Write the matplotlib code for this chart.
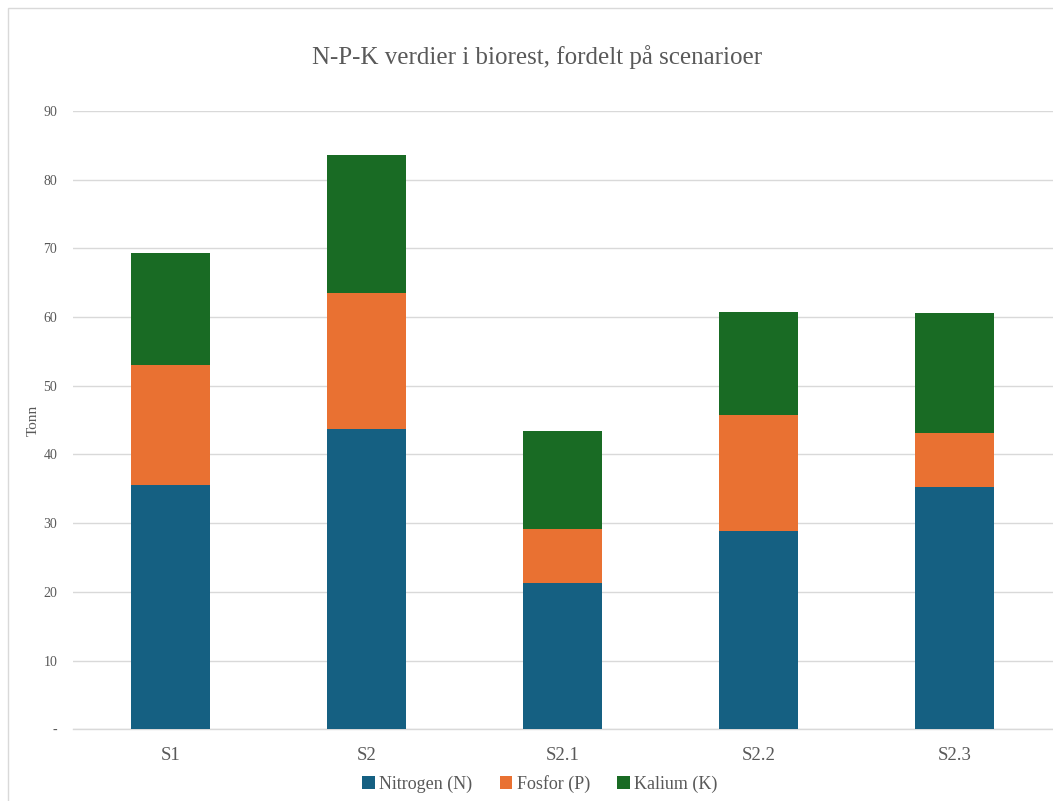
import matplotlib
matplotlib.use("Agg")
import matplotlib.pyplot as plt
from matplotlib.patches import Rectangle
import numpy as np

# Data (tonn)
scenarios = ["S1", "S2", "S2.1", "S2.2", "S2.3"]
nitrogen = [35.5, 43.7, 21.3, 28.8, 35.3]
fosfor = [17.5, 19.8, 7.9, 16.9, 7.8]
kalium = [16.3, 20.1, 14.2, 15.1, 17.5]
series_names = ["Nitrogen (N)", "Fosfor (P)", "Kalium (K)"]
y_ticks = [0, 10, 20, 30, 40, 50, 60, 70, 80, 90]
y_tick_labels = ["-", "10", "20", "30", "40", "50", "60", "70", "80", "90"]

colors = ["#156082", "#E97132", "#196B24"]
text_color = "#595959"
grid_color = "#D9D9D9"

plt.rcParams["font.family"] = ["Liberation Serif", "DejaVu Serif"]

fig = plt.figure(figsize=(10.53, 8.01), dpi=100)
fig.patch.set_facecolor("white")

# chart area border
fig.add_artist(Rectangle((8 / 1053, -0.05), 1.2, (801 - 8) / 801 + 0.05,
                         transform=fig.transFigure, fill=False,
                         edgecolor="#D9D9D9", linewidth=1.0))

ax = fig.add_axes([72.5 / 1053, (801 - 729.3) / 801, 980 / 1053, (729.3 - 111) / 801])

x = np.arange(len(scenarios))
width = 0.40
bottoms = np.zeros(len(scenarios))
for vals, name, col in zip([nitrogen, fosfor, kalium], series_names, colors):
    ax.bar(x, vals, width, bottom=bottoms, color=col, label=name, zorder=3)
    bottoms = bottoms + np.array(vals)

ax.set_xlim(-0.5, len(scenarios) - 0.5)
ax.set_ylim(0, 90)
ax.set_yticks(y_ticks)
ax.set_yticklabels(y_tick_labels)
ax.set_xticks(x)
ax.set_xticklabels(scenarios)

ax.yaxis.grid(True, color=grid_color, linewidth=1.0, zorder=0)
ax.set_axisbelow(True)
for s in ["top", "right", "left"]:
    ax.spines[s].set_visible(False)
ax.spines["bottom"].set_color(grid_color)
ax.spines["bottom"].set_linewidth(1.0)

ax.tick_params(axis="y", length=0, pad=11, labelsize=10, labelcolor=text_color)
ax.tick_params(axis="x", length=0, pad=13, labelsize=13.5, labelcolor=text_color)

ax.set_ylabel("Tonn", fontsize=11, color=text_color)
ax.yaxis.set_label_coords(-0.033, 0.5)

fig.text(537 / 1053, 1 - 57 / 801, "N-P-K verdier i biorest, fordelt på scenarioer",
         ha="center", va="center", fontsize=18, color=text_color)

leg = fig.legend(loc="center", bbox_to_anchor=(540 / 1053, 1 - 784 / 801), ncol=3,
                 frameon=False, fontsize=13, handlelength=0.7, handleheight=0.7,
                 handletextpad=0.25, columnspacing=1.5, labelcolor=text_color)

fig.savefig("out.png", dpi=100, facecolor="white")
